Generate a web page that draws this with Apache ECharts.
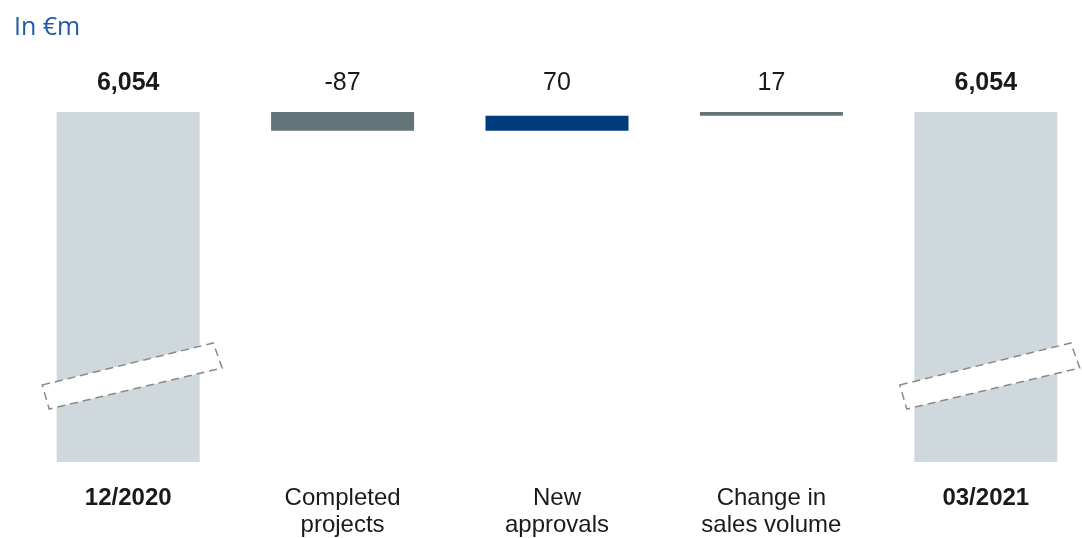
<!DOCTYPE html>
<html>
<head>
<meta charset="utf-8">
<script src="https://cdn.jsdelivr.net/npm/echarts@6/dist/echarts.min.js"></script>
<style>html,body{margin:0;padding:0;background:#fff;}#c{width:1082px;height:538px;}</style>
</head>
<body>
<div id="c"></div>
<script>
// ---- data ----
const categories = ['12/2020', 'Completed\nprojects', 'New\napprovals', 'Change in\nsales volume', '03/2021'];
const startTotal = 6054;
const deltas = [-87, 70, 17];
const endTotal = 6054;
const valueLabels = ['6,054', '-87', '70', '17', '6,054'];
const breakBars = [0, 4];
const unitLabel = 'In €m';

// ---- build waterfall ----
const barColors = ['#CFD8DC', '#637579', '#003C7D', '#637579', '#CFD8DC'];
const baseData = [0];
const visData = [startTotal];
let run = startTotal;
deltas.forEach(d => {
  const next = run + d;
  baseData.push(Math.min(run, next));
  visData.push(Math.abs(d));
  run = next;
});
baseData.push(0);
visData.push(endTotal);
const yMin = 4440, yMax = 6054;
const isTotal = i => i === 0 || i === categories.length - 1;

const chart = echarts.init(document.getElementById('c'), null, {renderer: 'canvas'});
const font = '"Liberation Sans", Arial, sans-serif';
chart.setOption({
  animation: false,
  backgroundColor: '#fff',
  title: {
    text: unitLabel, left: 9, top: 10,
    textStyle: {fontFamily: '"Open Sans", sans-serif', fontSize: 25, fontWeight: 'normal', color: '#1F5BA8'}
  },
  grid: {left: 21, width: 1072, top: 112, bottom: 76, containLabel: false, outerBoundsMode: 'none'},
  xAxis: {
    type: 'category', data: categories,
    axisLine: {show: false}, axisTick: {show: false},
    axisLabel: {
      margin: 23, interval: 0, hideOverlap: false,
      formatter: (v, i) => {
        const tag = isTotal(i) ? 'b' : 'n';
        return v.split('\n').map(s => '{' + tag + '|' + s + '}').join('\n');
      },
      rich: {
        b: {fontFamily: font, fontSize: 24, fontWeight: 'bold', color: '#1a1a1a', lineHeight: 27},
        n: {fontFamily: font, fontSize: 24, color: '#1a1a1a', lineHeight: 27}
      }
    }
  },
  yAxis: {type: 'value', min: yMin, max: yMax, show: false, splitLine: {show: false}},
  series: [
    {type: 'bar', stack: 'w', data: baseData, barWidth: 143,
     itemStyle: {color: 'transparent'}, silent: true},
    {type: 'bar', stack: 'w', data: visData.map((v, i) => ({value: v, itemStyle: {color: barColors[i]}})),
     barWidth: 143},
    {type: 'scatter', symbolSize: 0, z: 5, silent: true,
     itemStyle: {opacity: 1},
     data: categories.map((c, i) => ({
       value: yMax,
       label: {fontWeight: isTotal(i) ? 'bold' : 'normal'}
     })),
     label: {
       show: true, position: 'top', distance: 16,
       formatter: p => valueLabels[p.dataIndex],
       fontFamily: font, fontSize: 25, color: '#1a1a1a', opacity: 1
     }
    },
    {type: 'custom', z: 10, clip: false, silent: true,
     data: breakBars.map(i => [i, yMin]),
     renderItem: (params, api) => {
       const p = api.coord([api.value(0), api.value(1)]);
       const cx = p[0] + 3, cy = p[1] - 86;
       const pts = [[cx - 89, cy + 9], [cx + 82, cy - 33], [cx + 91, cy - 8], [cx - 82, cy + 33]];
       return {
         type: 'polygon',
         shape: {points: pts},
         style: {fill: '#fff', stroke: '#8a8a8a', lineWidth: 1.5, lineDash: [8, 5]}
       };
     }
    }
  ]
});
</script>
</body>
</html>
